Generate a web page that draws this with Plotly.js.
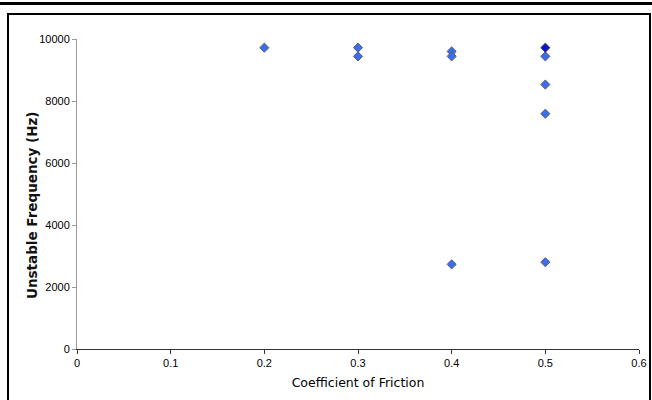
<!DOCTYPE html>
<html>
<head>
<meta charset="utf-8">
<script src="https://cdn.plot.ly/plotly-3.0.1.min.js"></script>
<style>
html,body{margin:0;padding:0;background:#fff;}
#wrap{position:relative;width:652px;height:400px;overflow:hidden;}
#chart{position:absolute;left:0;top:0;width:652px;height:400px;}
.topbar{position:absolute;left:0;top:2px;width:652px;height:3px;background:#000;}
.frame{position:absolute;left:7px;top:13px;width:640px;height:400px;border:2px solid #000;border-bottom:none;}
</style>
</head>
<body>
<div id="wrap">
<div id="chart"></div>
<div class="topbar"></div>
<div class="frame"></div>
</div>
<script>
// Data
const friction = [0.2, 0.3, 0.3, 0.4, 0.4, 0.4, 0.5, 0.5, 0.5, 0.5];
const frequency = [9720, 9720, 9440, 9600, 9440, 2730, 9440, 8530, 7590, 2800];
// highlighted (darker) point
const frictionDark = [0.5];
const frequencyDark = [9720];

const xTicks = [0, 0.1, 0.2, 0.3, 0.4, 0.5, 0.6];
const yTicks = [0, 2000, 4000, 6000, 8000, 10000];

const traces = [
  {
    x: friction, y: frequency, type: 'scatter', mode: 'markers',
    marker: {symbol: 'diamond', size: 7, color: '#3a6ef0', line: {color: '#5a5a6a', width: 1}},
    hoverinfo: 'x+y', showlegend: false
  },
  {
    x: frictionDark, y: frequencyDark, type: 'scatter', mode: 'markers',
    marker: {symbol: 'diamond', size: 7, color: '#0a14d0', line: {color: '#3a3a5a', width: 1}},
    hoverinfo: 'x+y', showlegend: false
  }
];

const layout = {
  width: 652, height: 400,
  margin: {l: 77, r: 13, t: 39, b: 51, pad: 0},
  paper_bgcolor: '#fff', plot_bgcolor: '#fff',
  font: {family: 'Liberation Sans, Arial, sans-serif', size: 11, color: '#000'},
  xaxis: {
    range: [0, 0.6], tickvals: xTicks, ticktext: xTicks.map(String),
    showgrid: false, zeroline: false,
    showline: true, linecolor: '#333', linewidth: 1,
    ticks: 'outside', ticklen: 4, tickcolor: '#333', tickwidth: 1,
    tickfont: {family: 'Liberation Sans, Arial, sans-serif', size: 11, color: '#000'},
    title: {text: 'Coefficient of Friction', font: {family: 'DejaVu Sans, sans-serif', size: 12.5, color: '#000'}, standoff: 10},
    automargin: false, fixedrange: true
  },
  yaxis: {
    range: [0, 10000], tickvals: yTicks, ticktext: yTicks.map(String),
    showgrid: false, zeroline: false,
    showline: true, linecolor: '#999', linewidth: 1,
    ticks: 'outside', ticklen: 4, tickcolor: '#999', tickwidth: 1,
    tickfont: {family: 'Liberation Sans, Arial, sans-serif', size: 11, color: '#000'},
    automargin: false, fixedrange: true
  },
  annotations: [{
    text: 'Unstable Frequency (Hz)', textangle: -90, showarrow: false,
    xref: 'paper', yref: 'paper', x: -0.0801, y: 0.4645,
    xanchor: 'center', yanchor: 'middle',
    font: {family: 'DejaVu Sans, sans-serif', size: 13.5, color: '#111', weight: 'bold'}
  }],
  showlegend: false
};

Plotly.newPlot('chart', traces, layout, {displayModeBar: false, staticPlot: true});
</script>
</body>
</html>
